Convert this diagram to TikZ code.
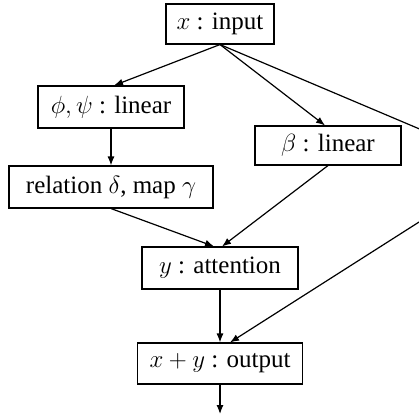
\documentclass[tikz,border=0pt]{standalone}
\usepackage{fontspec}
\setmainfont{Liberation Serif}
\usetikzlibrary{arrows.meta,calc}
\tikzset{
  box/.style={draw, line width=1.1pt, inner sep=0pt, minimum height=41pt, font=\fontsize{25}{30}\selectfont},
  conn/.style={line width=1.2pt, -{Latex[length=9pt,width=7pt]}},
}
\begin{document}
\begin{tikzpicture}[x=1pt,y=-1pt]
\useasboundingbox[fill=white] (0,0) rectangle (419,419);
\clip (0,0) rectangle (419,419);
\node[box, minimum width=108pt, minimum height=40pt] (inp) at (220,24) {$x$ : input};
\node[box, minimum width=146pt, minimum height=42pt] (phi) at (111,107) {$\phi,\psi$ : linear};
\node[box, minimum width=146pt, minimum height=39pt] (beta) at (328,145.5) {$\beta$ : linear};
\node[box, minimum width=204pt, minimum height=42pt] (rel) at (111,187) {relation $\delta$, map $\gamma$};
\node[box, minimum width=156pt, minimum height=42pt] (att) at (220,268) {$y$ : attention};
\node[box, minimum width=165pt, minimum height=41pt] (out) at (220,363.5) {$x+y$ : output};
\coordinate (far) at (507,166);
\coordinate (end) at (220,414);
\draw[conn] (inp.south) -- ($(phi.north)+(3,0)$);
\draw[conn] (inp.south) -- ($(beta.north)+(-3,0)$);
\draw[conn] (inp.south) -- (far) -- ($(out.north)+(10,0)$);
\draw[conn] (phi.south) -- (rel.north);
\draw[conn] (rel.south) -- ($(att.north)+(-6,0)$);
\draw[conn] (beta.south) -- ($(att.north)+(2,0)$);
\draw[conn] (att.south) -- (out.north);
\draw[conn] (out.south) -- (end);
\end{tikzpicture}
\end{document}
